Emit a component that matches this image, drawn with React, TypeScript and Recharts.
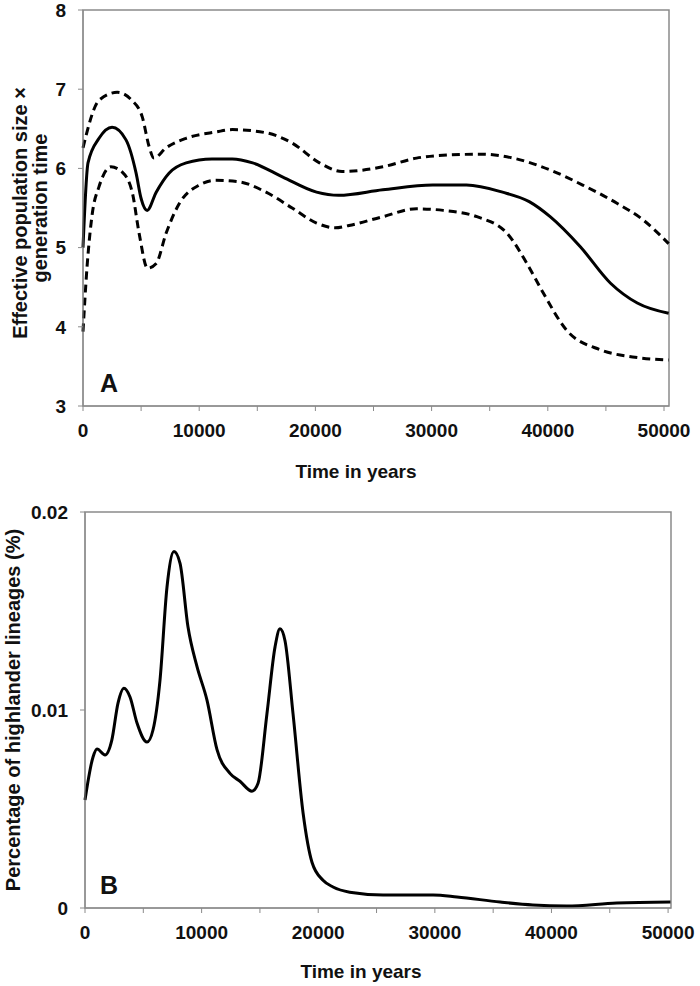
import React from "react";
import { LineChart, Line, XAxis, YAxis, ReferenceArea } from "recharts";

const FONT = '"Liberation Sans", Arial, sans-serif';
const AXIS = "#8a8a8a";

const timeTicks = [0, 5000, 10000, 15000, 20000, 25000, 30000, 35000, 40000, 45000, 50000];
const sizeTicks = [3, 4, 5, 6, 7, 8];
const pctTicks = [0, 0.01, 0.02];

// Panel A: effective population size x generation time
const medianA = [
  { t: 0, v: 5.0 }, { t: 430, v: 6.07 }, { t: 1380, v: 6.38 }, { t: 2500, v: 6.52 },
  { t: 3700, v: 6.36 }, { t: 4570, v: 5.94 }, { t: 5000, v: 5.62 }, { t: 5520, v: 5.47 },
  { t: 6300, v: 5.7 }, { t: 7400, v: 5.94 }, { t: 8880, v: 6.07 }, { t: 11100, v: 6.12 },
  { t: 12850, v: 6.12 }, { t: 14600, v: 6.07 }, { t: 17200, v: 5.89 }, { t: 20100, v: 5.7 },
  { t: 22000, v: 5.66 }, { t: 25800, v: 5.73 }, { t: 30100, v: 5.79 }, { t: 33000, v: 5.79 },
  { t: 36100, v: 5.7 }, { t: 38400, v: 5.58 }, { t: 40200, v: 5.39 }, { t: 42800, v: 5.01 },
  { t: 45400, v: 4.55 }, { t: 47700, v: 4.3 }, { t: 50400, v: 4.17 },
];

const upperA = [
  { t: 0, v: 6.26 }, { t: 1380, v: 6.86 }, { t: 2950, v: 6.96 }, { t: 4200, v: 6.86 },
  { t: 5100, v: 6.65 }, { t: 5700, v: 6.27 }, { t: 6100, v: 6.13 }, { t: 7150, v: 6.26 },
  { t: 8870, v: 6.38 }, { t: 11450, v: 6.46 }, { t: 12850, v: 6.49 }, { t: 15750, v: 6.45 },
  { t: 18000, v: 6.32 }, { t: 20350, v: 6.07 }, { t: 22300, v: 5.96 }, { t: 25800, v: 6.02 },
  { t: 28700, v: 6.13 }, { t: 31550, v: 6.17 }, { t: 34400, v: 6.18 }, { t: 37300, v: 6.12 },
  { t: 40200, v: 5.98 }, { t: 43000, v: 5.79 }, { t: 45950, v: 5.56 }, { t: 48200, v: 5.35 },
  { t: 50400, v: 5.05 },
];

const lowerA = [
  { t: 0, v: 3.94 }, { t: 350, v: 4.76 }, { t: 800, v: 5.43 }, { t: 1380, v: 5.77 },
  { t: 2400, v: 6.02 }, { t: 3400, v: 5.95 }, { t: 4250, v: 5.69 }, { t: 4830, v: 5.18 },
  { t: 5550, v: 4.74 }, { t: 6300, v: 4.8 }, { t: 7150, v: 5.18 }, { t: 8300, v: 5.56 },
  { t: 10000, v: 5.79 }, { t: 11450, v: 5.85 }, { t: 13450, v: 5.83 }, { t: 15750, v: 5.7 },
  { t: 18000, v: 5.5 }, { t: 20100, v: 5.31 }, { t: 21700, v: 5.25 }, { t: 22900, v: 5.28 },
  { t: 25800, v: 5.39 }, { t: 28700, v: 5.49 }, { t: 31000, v: 5.47 }, { t: 33900, v: 5.39 },
  { t: 36500, v: 5.18 }, { t: 38200, v: 4.8 }, { t: 39600, v: 4.43 }, { t: 41600, v: 3.96 },
  { t: 44500, v: 3.71 }, { t: 47300, v: 3.62 }, { t: 50400, v: 3.58 },
];

// Panel B: percentage of highlander lineages
const highlanderB = [
  { t: 0, v: 0.00545 }, { t: 690, v: 0.00763 }, { t: 1030, v: 0.00803 }, { t: 1720, v: 0.00773 },
  { t: 2300, v: 0.00848 }, { t: 2830, v: 0.01035 }, { t: 3340, v: 0.0111 }, { t: 3860, v: 0.01066 },
  { t: 4460, v: 0.00934 }, { t: 5320, v: 0.00838 }, { t: 5830, v: 0.00899 }, { t: 6430, v: 0.0115 },
  { t: 7030, v: 0.0162 }, { t: 7630, v: 0.018 }, { t: 8150, v: 0.0174 }, { t: 8830, v: 0.0142 },
  { t: 9600, v: 0.0122 }, { t: 10460, v: 0.0105 }, { t: 11320, v: 0.008 }, { t: 12430, v: 0.0068 },
  { t: 13290, v: 0.0064 }, { t: 14320, v: 0.0059 }, { t: 14840, v: 0.0063 }, { t: 15600, v: 0.0098 },
  { t: 16300, v: 0.0132 }, { t: 16720, v: 0.0141 }, { t: 17150, v: 0.0135 }, { t: 17840, v: 0.0098 },
  { t: 18700, v: 0.0048 }, { t: 19470, v: 0.0023 }, { t: 20410, v: 0.0014 }, { t: 21270, v: 0.00106 },
  { t: 22700, v: 0.0008 }, { t: 25560, v: 0.00066 }, { t: 29850, v: 0.00066 }, { t: 31900, v: 0.00056 },
  { t: 35600, v: 0.0003 }, { t: 38400, v: 0.00015 }, { t: 41300, v: 0.0001 }, { t: 45600, v: 0.00025 },
  { t: 50200, v: 0.0003 },
];

const tickStyle = { fontFamily: FONT, fontSize: 19, fontWeight: 700, fill: "#111" };
const timeLabel = (v: number) => (v % 10000 === 0 ? String(v) : "");

const textBase: React.CSSProperties = {
  position: "absolute",
  fontFamily: FONT,
  fontWeight: 700,
  color: "#111",
  whiteSpace: "nowrap",
  textAlign: "center",
};

function Rotated({ cx, cy, size, children }: { cx: number; cy: number; size: number; children: React.ReactNode }) {
  return (
    <div
      style={{
        ...textBase,
        left: cx - 200,
        top: cy - 12,
        width: 400,
        height: 24,
        lineHeight: "24px",
        fontSize: size,
        transform: "rotate(-90deg)",
      }}
    >
      {children}
    </div>
  );
}

function Centered({ cx, cy, size, children }: { cx: number; cy: number; size: number; children: React.ReactNode }) {
  return (
    <div
      style={{
        ...textBase,
        left: cx - 150,
        top: cy - 15,
        width: 300,
        height: 30,
        lineHeight: "30px",
        fontSize: size,
      }}
    >
      {children}
    </div>
  );
}

export default function App() {
  return (
    <div style={{ position: "absolute", left: 0, top: 0, width: 700, height: 986, background: "#fff" }}>
      <div style={{ position: "absolute", left: 0, top: 0 }}>
        <LineChart width={700} height={490} margin={{ top: 10, right: 31, bottom: 0, left: 0 }}>
          <XAxis
            dataKey="t"
            type="number"
            domain={[0, 50430]}
            ticks={timeTicks}
            interval={0}
            tickFormatter={timeLabel}
            tick={tickStyle}
            stroke={AXIS}
            tickSize={5}
            tickMargin={13}
            height={84}
            allowDuplicatedCategory={false}
          />
          <YAxis
            type="number"
            domain={[3, 8]}
            ticks={sizeTicks}
            interval={0}
            tick={tickStyle}
            stroke={AXIS}
            tickSize={5}
            tickMargin={12}
            width={83}
          />
          <ReferenceArea x1={0} x2={50430} y1={3} y2={8} fill="none" stroke={AXIS} strokeWidth={1.5} />
          <Line data={upperA} dataKey="v" type="monotone" stroke="#000" strokeWidth={3} strokeDasharray="8 5" dot={false} isAnimationActive={false} />
          <Line data={lowerA} dataKey="v" type="monotone" stroke="#000" strokeWidth={3} strokeDasharray="8 5" dot={false} isAnimationActive={false} />
          <Line data={medianA} dataKey="v" type="monotone" stroke="#000" strokeWidth={3} dot={false} isAnimationActive={false} />
        </LineChart>
      </div>

      <div style={{ position: "absolute", left: 0, top: 490 }}>
        <LineChart width={700} height={496} margin={{ top: 22, right: 29, bottom: 0, left: 0 }}>
          <XAxis
            dataKey="t"
            type="number"
            domain={[0, 50250]}
            ticks={timeTicks}
            interval={0}
            tickFormatter={timeLabel}
            tick={tickStyle}
            stroke={AXIS}
            tickSize={5}
            tickMargin={13}
            height={78}
            allowDuplicatedCategory={false}
          />
          <YAxis
            type="number"
            domain={[0, 0.02]}
            ticks={pctTicks}
            interval={0}
            tick={tickStyle}
            stroke={AXIS}
            tickSize={5}
            tickMargin={12}
            width={85}
          />
          <ReferenceArea x1={0} x2={50250} y1={0} y2={0.02} fill="none" stroke={AXIS} strokeWidth={1.5} />
          <Line data={highlanderB} dataKey="v" type="monotone" stroke="#000" strokeWidth={3} dot={false} isAnimationActive={false} />
        </LineChart>
      </div>

      <Rotated cx={20} cy={213} size={20}>Effective population size ×</Rotated>
      <Rotated cx={40} cy={208} size={20}>generation time</Rotated>
      <Centered cx={109} cy={383} size={25}>A</Centered>
      <Centered cx={356} cy={472} size={19}>Time in years</Centered>

      <Rotated cx={13} cy={710} size={20}>Percentage of highlander lineages (%)</Rotated>
      <Centered cx={109} cy={885} size={25}>B</Centered>
      <Centered cx={361} cy={972} size={19}>Time in years</Centered>
    </div>
  );
}
